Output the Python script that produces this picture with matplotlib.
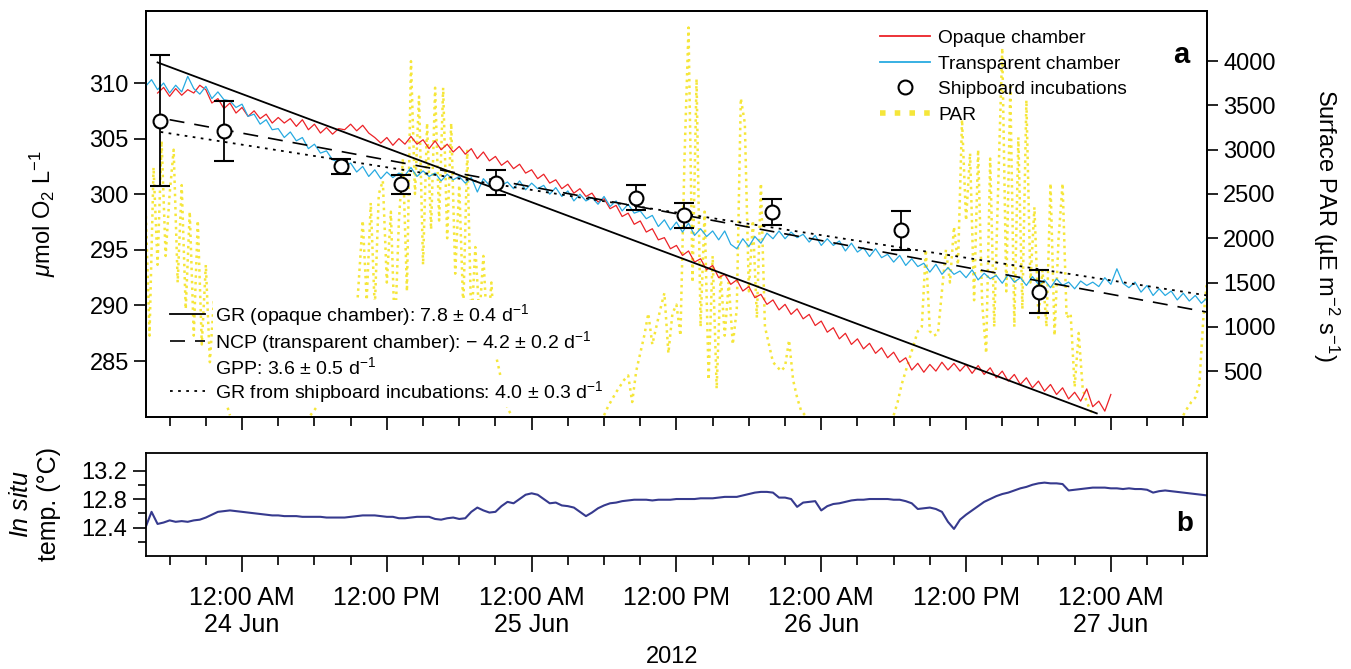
import numpy as np
import pandas as pd
import matplotlib
matplotlib.use("Agg")
import matplotlib.pyplot as plt
import matplotlib.dates as mdates
from matplotlib.lines import Line2D
from matplotlib.ticker import FuncFormatter

plt.rcParams["font.family"] = ["Liberation Sans", "DejaVu Sans"]
plt.rcParams["mathtext.fontset"] = "custom"
plt.rcParams["mathtext.rm"] = "Liberation Sans"
plt.rcParams["mathtext.it"] = "Liberation Sans:italic"
plt.rcParams["mathtext.bf"] = "Liberation Sans:bold"
plt.rcParams["axes.linewidth"] = 1.3

RED = "#ec2227"
BLUE = "#27aae1"
YELLOW = "#f5e63a"
NAVY = "#363a8e"

# ---- oxygen records (30 min) ----
t_grid = pd.date_range("2012-06-23 16:00", "2012-06-27 08:00", freq="30min")
red_time = pd.date_range("2012-06-23 17:00", "2012-06-27 00:00", freq="30min")

opaque_o2 = [
    309.1, 309.6, 308.8, 309.5, 308.9, 309.4, 309.1, 309.8,
    309.4, 308.2, 308.6, 307.7, 308.2, 307.3, 307.8, 307.0, 307.5, 306.8,
    307.2, 306.4, 306.9, 306.4, 306.8, 306.1, 306.7, 305.8, 306.3, 305.5,
    306.0, 305.4, 305.9, 305.8, 306.3, 305.7, 306.2, 305.5, 305.1, 304.6,
    305.1, 304.4, 305.0, 304.5, 305.2, 304.5, 304.9, 304.1, 304.8, 304.0,
    304.5, 303.8, 304.3, 303.6, 304.1, 303.2, 303.8, 303.0, 303.4, 302.6,
    303.0, 302.3, 302.7, 301.9, 302.2, 301.4, 301.8, 301.0, 301.3, 300.5,
    300.9, 300.1, 300.5, 299.8, 300.1, 299.3, 299.6, 298.7, 299.0, 298.0,
    298.3, 297.3, 297.6, 296.6, 296.9, 295.9, 296.1, 295.1, 295.4, 294.5,
    294.9, 293.9, 294.2, 293.2, 293.6, 292.5, 292.8, 291.9, 292.3, 291.3,
    291.7, 290.7, 291.0, 290.1, 290.5, 289.6, 290.1, 289.2, 289.7, 288.8,
    289.2, 288.2, 288.6, 287.6, 288.0, 287.0, 287.5, 286.5, 287.0, 286.1,
    286.6, 285.7, 286.2, 285.3, 285.8, 284.9, 285.3, 284.2, 284.8, 284.0,
    284.7, 284.1, 284.9, 284.2, 284.8, 284.1, 284.7, 283.9, 284.6, 283.8,
    284.4, 283.5, 284.1, 283.2, 283.8, 282.9, 283.5, 282.6, 283.2, 282.3,
    282.9, 282.0, 282.6, 281.6, 282.2, 281.4, 282.5, 280.9, 281.4, 280.5,
    282.0,
]

transparent_o2 = [
    309.7, 310.3, 309.4, 310.0, 309.1, 309.8, 309.2, 310.6, 309.5, 309.0,
    309.7, 308.6, 309.2, 308.5, 308.4, 307.8, 308.1, 307.0, 307.2, 306.3,
    306.7, 305.8, 305.9, 305.1, 305.6, 304.8, 305.1, 304.1, 304.5, 303.7,
    303.9, 303.1, 302.9, 302.5, 302.8, 302.0, 302.5, 301.6, 302.2, 301.4,
    302.0, 301.5, 301.9, 301.7, 302.4, 301.6, 302.1, 301.6, 301.9, 301.2,
    301.8, 301.3, 301.6, 301.0, 301.5, 300.2, 301.4, 300.8, 301.3, 300.8,
    301.1, 300.5, 301.2, 300.4, 301.0, 300.5, 300.8, 300.0, 300.6, 299.8,
    300.3, 299.4, 300.0, 299.4, 299.7, 299.1, 299.8, 298.9, 299.4, 298.5,
    299.1, 298.3, 298.5, 297.8, 298.1, 297.1, 297.7, 296.8, 297.5, 296.6,
    297.4, 296.3, 296.9, 296.2, 296.7, 295.9, 296.7, 295.5, 295.1, 296.0,
    295.3, 296.2, 295.6, 296.5, 296.0, 296.7, 296.0, 296.6, 296.1, 296.4,
    295.7, 296.3, 295.4, 296.0, 295.4, 295.8, 294.9, 295.6, 294.8, 295.2,
    294.4, 295.1, 294.3, 294.6, 293.9, 294.5, 293.6, 294.2, 293.5, 293.8,
    293.0, 293.7, 292.8, 293.4, 292.8, 293.1, 292.5, 293.2, 292.3, 292.9,
    292.4, 292.7, 292.0, 292.8, 292.1, 292.5, 291.8, 292.6, 291.9, 292.3,
    291.6, 292.4, 291.8, 292.1, 291.5, 292.2, 291.8, 292.1, 291.7, 292.5,
    291.9, 293.3, 292.0, 291.6, 292.1, 291.2, 291.8, 290.9, 291.5, 290.9,
    291.3, 290.5, 291.1, 290.4, 290.9, 290.2, 290.7,
]

temp_c = [
    12.40, 12.62, 12.45, 12.47, 12.50, 12.48, 12.49, 12.48, 12.50, 12.51,
    12.54, 12.58, 12.62, 12.63, 12.64, 12.63, 12.62, 12.61, 12.60, 12.59,
    12.58, 12.57, 12.57, 12.56, 12.56, 12.56, 12.55, 12.55, 12.55, 12.55,
    12.54, 12.54, 12.54, 12.54, 12.55, 12.56, 12.57, 12.57, 12.57, 12.56,
    12.55, 12.55, 12.53, 12.53, 12.54, 12.55, 12.55, 12.55, 12.52, 12.51,
    12.53, 12.54, 12.52, 12.53, 12.62, 12.68, 12.64, 12.61, 12.62, 12.70,
    12.76, 12.74, 12.80, 12.86, 12.88, 12.86, 12.80, 12.74, 12.75, 12.71,
    12.70, 12.68, 12.62, 12.56, 12.61, 12.67, 12.71, 12.74, 12.75, 12.77,
    12.78, 12.79, 12.79, 12.79, 12.78, 12.79, 12.79, 12.79, 12.80, 12.80,
    12.80, 12.80, 12.81, 12.81, 12.81, 12.82, 12.83, 12.83, 12.83, 12.85,
    12.87, 12.89, 12.90, 12.90, 12.89, 12.82, 12.82, 12.80, 12.69, 12.75,
    12.76, 12.77, 12.64, 12.70, 12.73, 12.74, 12.76, 12.78, 12.79, 12.79,
    12.80, 12.80, 12.80, 12.80, 12.79, 12.79, 12.77, 12.74, 12.66, 12.67,
    12.68, 12.66, 12.62, 12.48, 12.38, 12.51, 12.58, 12.64, 12.70, 12.76,
    12.80, 12.84, 12.87, 12.89, 12.92, 12.95, 12.97, 13.00, 13.02, 13.03,
    13.02, 13.02, 13.01, 12.92, 12.93, 12.94, 12.95, 12.96, 12.96, 12.96,
    12.95, 12.95, 12.94, 12.95, 12.94, 12.94, 12.93, 12.89, 12.91, 12.92,
    12.91, 12.90, 12.89, 12.88, 12.87, 12.86, 12.85,
]

# ---- surface PAR, daylight hours only (20 min) ----
par_starts = ["2012-06-23 16:00", "2012-06-24 05:40", "2012-06-25 06:00",
              "2012-06-26 06:00", "2012-06-27 06:00"]
par_day1 = [2400, 900, 2800, 1700, 3100, 1800, 2500, 3000, 1500, 2600, 1200,
            2300, 900, 2200, 800, 1700, 600, 1300, 400, 300, 150, 0]
par_day2 = [0, 60, 120, 180, 230, 280, 330, 380, 430, 480,
            600, 800, 1500, 2200, 1300, 2400, 1200, 2500, 2650, 1500,
            2300, 900, 2200, 2900, 1400, 4000, 2500, 3600, 1700, 3300,
            2100, 3700, 2200, 3700, 2000, 3300, 1600, 2600, 1200, 3000,
            1000, 1900, 1100, 1800, 900, 1500, 700, 500, 250, 80, 0]
par_day3 = [0, 100, 180, 260, 330, 400, 450, 150, 500, 700,
            900, 1150, 800, 1000, 1200, 1380, 700, 1150, 1250, 900,
            2900, 4380, 1500, 3800, 1000, 2300, 400, 1800, 300, 1600,
            900, 1500, 800, 1200, 3580, 3300, 1400, 2200, 1100, 2620,
            1000, 800, 600, 550, 500, 550, 850, 400, 200, 50, 0]
par_day4 = [0, 150, 350, 500, 650, 800, 950, 1000, 1870, 950,
            900, 920, 1400, 1870, 1500, 2130, 1700, 3340, 2200, 2960,
            1300, 3000, 1270, 700, 2900, 1000, 2600, 4150, 1400, 3710,
            1000, 3140, 1200, 3560, 1500, 2350, 1100, 1640, 1000, 2620,
            900, 2000, 2620, 1100, 1150, 320, 930, 300, 150, 50, 0]
par_day5 = [0, 80, 150, 200, 350, 1100, 1550]
par_days = [par_day1, par_day2, par_day3, par_day4, par_day5]

# ---- shipboard incubations ----
ship_time = pd.to_datetime(["2012-06-23 17:10", "2012-06-23 22:30", "2012-06-24 08:10",
                            "2012-06-24 13:10", "2012-06-24 21:05", "2012-06-25 08:40",
                            "2012-06-25 12:40", "2012-06-25 19:55", "2012-06-26 06:35",
                            "2012-06-26 18:05"])
ship_o2 = [306.6, 305.65, 302.5, 300.9, 301.05, 299.7, 298.1, 298.4, 296.75, 291.25]
ship_err = [5.9, 2.7, 0.7, 0.85, 1.1, 1.1, 1.1, 1.2, 1.75, 1.95]

# ---- regression lines (end points) ----
gr_fit_time = pd.to_datetime(["2012-06-23 17:00", "2012-06-26 22:50"])
gr_fit_o2 = [311.85, 280.3]
ncp_fit_time = pd.to_datetime(["2012-06-23 18:00", "2012-06-27 08:00"])
ncp_fit_o2 = [306.7, 289.4]
ship_fit_time = pd.to_datetime(["2012-06-23 17:15", "2012-06-27 08:00"])
ship_fit_o2 = [305.6, 290.9]

x_start = pd.Timestamp("2012-06-23 16:00")
x_end = pd.Timestamp("2012-06-27 08:00")

fig = plt.figure(figsize=(13.51, 6.69), dpi=100)
ax = fig.add_axes([0.1077, 0.3771, 0.7860, 0.6069])
ax_par = ax.twinx()
ax2 = fig.add_axes([0.1077, 0.1689, 0.7860, 0.1544])

ax.set_zorder(ax_par.get_zorder() + 1)
ax.patch.set_visible(False)

for start, vals in zip(par_starts, par_days):
    tt = pd.date_range(start, periods=len(vals), freq="20min")
    ax_par.plot(tt, vals, color=YELLOW, lw=1.8, ls=":")

ax.plot(red_time, opaque_o2, color=RED, lw=0.9)
ax.plot(t_grid, transparent_o2, color=BLUE, lw=0.9)
ax.plot(gr_fit_time, gr_fit_o2, color="black", lw=1.3)
ax.plot(ncp_fit_time, ncp_fit_o2, color="black", lw=1.2, ls=(0, (9, 6)))
ax.plot(ship_fit_time, ship_fit_o2, color="black", lw=1.3, ls=(0, (1.5, 3)))
ax.errorbar(ship_time, ship_o2, yerr=ship_err, fmt="o", ms=10, mfc="white",
            mec="black", mew=1.5, ecolor="black", elinewidth=1.3, capsize=7,
            capthick=1.3, zorder=5)

ax.set_xlim(x_start, x_end)
ax.set_ylim(280, 316.5)
ax.set_yticks([285, 290, 295, 300, 305, 310])
ax_par.set_ylim(-16, 4570)
ax_par.set_yticks([500, 1000, 1500, 2000, 2500, 3000, 3500, 4000])

for a in (ax, ax2):
    a.xaxis.set_major_locator(mdates.HourLocator(byhour=[0, 12]))
    a.xaxis.set_minor_locator(mdates.HourLocator(byhour=range(0, 24, 3)))

ax.tick_params(axis="x", which="major", length=9.5, width=1.2, labelbottom=False)
ax.tick_params(axis="x", which="minor", length=6.5, width=1.2)
ax.tick_params(axis="y", length=8.5, width=1.2, labelsize=17)
ax_par.tick_params(axis="y", length=8, width=1.2, labelsize=17)

ax.set_ylabel(r"$\mu$mol O$_2$ L$^{-1}$", fontsize=17)
ax.yaxis.set_label_coords(-0.082, 0.5)
ax_par.set_ylabel("Surface PAR (µE m$^{-2}$ s$^{-1}$)", fontsize=17, rotation=270, va="bottom")
ax_par.yaxis.set_label_coords(1.098, 0.47)

h_red = Line2D([], [], color=RED, lw=1.3)
h_blue = Line2D([], [], color=BLUE, lw=1.3)
h_ship = Line2D([], [], ls="none", marker="o", ms=10, mfc="white", mec="black", mew=1.5)
h_par = Line2D([], [], color=YELLOW, lw=4, ls=":")
leg1 = ax.legend([h_red, h_blue, h_ship, h_par],
                 ["Opaque chamber", "Transparent chamber", "Shipboard incubations", "PAR"],
                 loc="upper left", bbox_to_anchor=(0.692, 0.953), frameon=False,
                 fontsize=13.8, handlelength=2.6, handletextpad=0.42,
                 labelspacing=0.42, borderpad=0, borderaxespad=0)
ax.add_artist(leg1)

h_gr = Line2D([], [], color="black", lw=1.3)
h_ncp = Line2D([], [], color="black", lw=1.2, ls=(0, (9, 6)))
h_gpp = Line2D([], [], color="none")
h_shipfit = Line2D([], [], color="black", lw=1.3, ls=(0, (1.5, 3)))
leg2 = ax.legend([h_gr, h_ncp, h_gpp, h_shipfit],
                 ["GR (opaque chamber): 7.8 ± 0.4 d$^{-1}$",
                  "NCP (transparent chamber): \u2212 4.2 ± 0.2 d$^{-1}$",
                  "GPP: 3.6 ± 0.5 d$^{-1}$",
                  "GR from shipboard incubations: 4.0 ± 0.3 d$^{-1}$"],
                 loc="lower left", bbox_to_anchor=(0.0226, 0.03), frameon=False,
                 fontsize=14, handlelength=1.85, handletextpad=0.5,
                 labelspacing=0.05, borderpad=0, borderaxespad=0)
for txt in leg2.get_texts():
    txt.set_bbox(dict(facecolor="white", edgecolor="none", pad=1.5))

ax.text(0.975, 0.891, "a", transform=ax.transAxes, fontsize=21,
        fontweight="bold", ha="center", va="center")

# ---- panel b ----
ax2.plot(t_grid, temp_c, color=NAVY, lw=1.5)
ax2.set_xlim(x_start, x_end)
ax2.set_ylim(12.0, 13.45)
ax2.set_yticks([12.4, 12.8, 13.2])
ax2.set_yticks([12.2, 12.6, 13.0], minor=True)


def time_label(x, pos):
    d = mdates.num2date(x)
    if d.hour == 0:
        return "12:00 AM\n%d Jun" % d.day
    return "12:00 PM"


ax2.xaxis.set_major_formatter(FuncFormatter(time_label))
ax2.tick_params(axis="x", which="major", length=11.3, width=1.2, labelsize=18, pad=10)
ax2.tick_params(axis="x", which="minor", length=6.5, width=1.2)
ax2.tick_params(axis="y", which="major", length=9.5, width=1.2, labelsize=17)
ax2.tick_params(axis="y", which="minor", length=6, width=1.2)
ax2.set_ylabel("$\\it{In\\ situ}$\ntemp. (°C)", fontsize=18)
ax2.yaxis.set_label_coords(-0.08, 0.5)
ax2.text(0.979, 0.31, "b", transform=ax2.transAxes, fontsize=20,
         fontweight="bold", ha="center", va="center")

fig.text(0.4974, 1 - 657 / 669, "2012", ha="center", va="center", fontsize=17)

fig.savefig("out.png", dpi=100)
